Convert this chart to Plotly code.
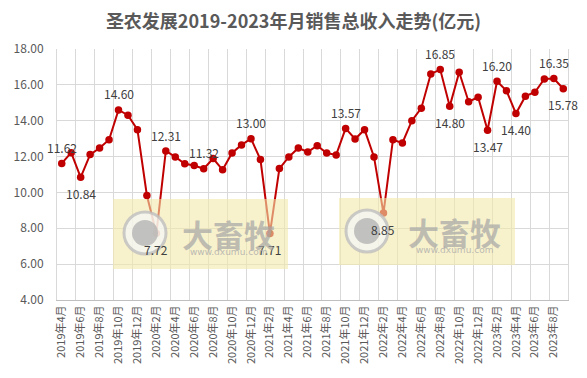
import plotly.graph_objects as go

months = []
for y in range(2019, 2024):
    for m in range(1, 13):
        if (y == 2019 and m < 4) or (y == 2023 and m > 9):
            continue
        months.append(f"{y}年{m}月")

revenue = [11.62, 12.22, 10.84, 12.11, 12.48, 12.94, 14.60, 14.31, 13.50, 9.83,
           7.72, 12.31, 11.98, 11.60, 11.50, 11.32, 11.89, 11.26, 12.20, 12.65,
           13.00, 11.83, 7.71, 11.33, 11.98, 12.48, 12.26, 12.61, 12.20, 12.09,
           13.57, 12.98, 13.50, 11.98, 8.85, 12.94, 12.76, 14.00, 14.70, 16.61,
           16.85, 14.80, 16.70, 15.06, 15.31, 13.47, 16.20, 15.67, 14.40, 15.37,
           15.59, 16.33, 16.35, 15.78]

# labelled points: month index -> position (above / below)
label_idx = [0, 2, 6, 10, 11, 15, 20, 22, 30, 34, 40, 41, 45, 46, 48, 52, 53]
label_pos = ["up", "down", "up", "down", "up", "up", "up", "down", "up", "down",
             "up", "down", "down", "up", "down", "up", "down"]

title = "圣农发展2019-2023年月销售总收入走势(亿元)"
font_cjk = "Noto Sans CJK SC"
red = "#C00000"

fig = go.Figure()
fig.add_trace(go.Scatter(
    x=months, y=revenue, mode="lines+markers",
    line=dict(color=red, width=2),
    marker=dict(color=red, size=7.5),
    hoverinfo="x+y", showlegend=False,
))

for i, p in zip(label_idx, label_pos):
    fig.add_annotation(
        x=months[i], y=revenue[i], text=f"{revenue[i]:.2f}",
        showarrow=False, yshift=16 if p == "up" else -16,
        xanchor="center", yanchor="middle",
        font=dict(family=font_cjk, size=12, color="#404040"),
    )

# watermarks (decorative, in paper coordinates)
plot_l, plot_r, plot_t, plot_b = 57, 568, 49, 300
W, H = 587, 378
def px(xp):
    return (xp - plot_l) / (plot_r - plot_l)
def py(yp):
    return (plot_b - yp) / (plot_b - plot_t)

for (x0, x1, y0, y1, cx, cy, tx) in [(113, 288, 199, 269, 145, 233, 228),
                                      (339, 515, 198, 265, 367, 231, 454)]:
    fig.add_shape(type="rect", xref="paper", yref="paper",
                  x0=px(x0), x1=px(x1), y0=py(y1), y1=py(y0),
                  fillcolor="rgba(242,232,170,0.6)", line=dict(width=0), layer="above")
    fig.add_shape(type="circle", xref="paper", yref="paper",
                  x0=px(cx - 21), x1=px(cx + 21), y0=py(cy + 21), y1=py(cy - 21),
                  fillcolor="rgba(245,245,245,0.75)",
                  line=dict(color="rgba(190,190,190,0.8)", width=3), layer="above")
    fig.add_shape(type="circle", xref="paper", yref="paper",
                  x0=px(cx - 13), x1=px(cx + 13), y0=py(cy + 13), y1=py(cy - 13),
                  fillcolor="rgba(180,180,180,0.8)", line=dict(width=0), layer="above")
    fig.add_annotation(xref="paper", yref="paper", x=px(tx), y=py(cy),
                       xanchor="center", yanchor="middle",
                       text="<b>大畜牧</b>", showarrow=False,
                       font=dict(family=font_cjk, size=31, color="rgba(165,165,165,0.7)"))
    fig.add_annotation(xref="paper", yref="paper", x=px(tx), y=py(cy + 19),
                       xanchor="center", yanchor="middle",
                       text="www.dxumu.com", showarrow=False,
                       font=dict(family="DejaVu Sans", size=9, color="rgba(170,170,170,0.8)"))

fig.update_layout(
    width=W, height=H,
    margin=dict(l=plot_l, r=W - plot_r, t=plot_t, b=H - plot_b),
    paper_bgcolor="white", plot_bgcolor="white",
    title=dict(text=f"<b>{title}</b>", x=0.5, xanchor="center", y=1 - 22 / H, yanchor="middle",
               font=dict(family=font_cjk, size=18, color="#595959")),
    font=dict(family=font_cjk, color="#595959"),
)
fig.update_xaxes(
    type="category", tickson="boundaries", dtick=2, tickangle=-90,
    showgrid=True, gridcolor="#D9D9D9", gridwidth=1,
    ticks="", showline=True, linecolor="#BFBFBF", linewidth=1,
    tickfont=dict(family=font_cjk, size=11, color="#595959"),
    range=[-0.5, len(months) - 0.5],
)
fig.update_yaxes(
    range=[4, 18], dtick=2, tickformat=".2f",
    showgrid=True, gridcolor="#D9D9D9", gridwidth=1,
    showline=True, mirror=True, linecolor="#D9D9D9", zeroline=False,
    tickfont=dict(family=font_cjk, size=12, color="#595959"),
    ticks="", ticklabelstandoff=10,
)

fig.write_html("out.html")
